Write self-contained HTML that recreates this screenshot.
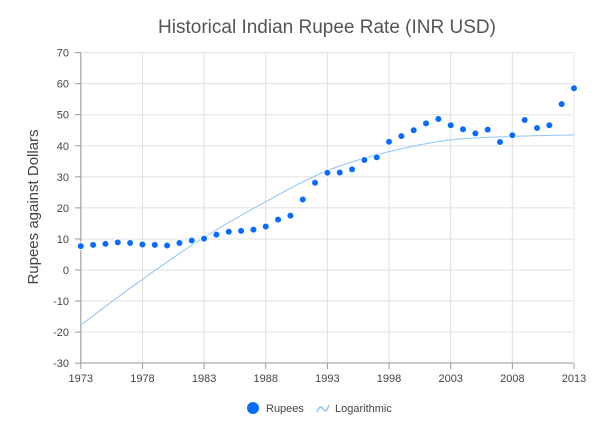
<!DOCTYPE html>
<html><head><meta charset="utf-8"><style>
body{margin:0;background:#fff;}
svg text{font-family:"Liberation Sans",sans-serif;}
</style></head><body>
<svg id="s" width="607" height="438" xmlns="http://www.w3.org/2000/svg">
<text x="327" y="33" text-anchor="middle" font-size="19" fill="#555">Historical Indian Rupee Rate (INR USD)</text>
<text transform="translate(38,207) rotate(-90)" text-anchor="middle" font-size="15" fill="#444">Rupees against Dollars</text>
<g id="g"></g>
<circle cx="253" cy="408" r="6" fill="#0a6cff"/>
<text x="266" y="412" font-size="11" fill="#444">Rupees</text>
<path d="M317,412 q3,-8 6,-3 t6,-4" stroke="#90c3f5" fill="none" stroke-width="1.5"/>
<text x="335" y="412" font-size="11" fill="#444">Logarithmic</text>
</svg>
<script>
var g=document.getElementById('g'),h='';
function X(yr){return 80.8+(yr-1973)*12.33;}
function Y(v){return 270-v*3.106;}
for(var v=-30;v<=70;v+=10){var y=Y(v);
 h+='<line x1="80.8" x2="573" y1="'+y+'" y2="'+y+'" stroke="#e0e0e0"/>';
 h+='<line x1="75" x2="80.8" y1="'+y+'" y2="'+y+'" stroke="#999"/>';
 h+='<text x="69" y="'+(y+4)+'" text-anchor="end" font-size="11" fill="#444">'+v+'</text>';}
for(var yr=1973;yr<=2013;yr+=5){var x=X(yr);
 h+='<line x1="'+x+'" x2="'+x+'" y1="52.7" y2="363" stroke="#e0e0e0"/>';
 h+='<line x1="'+x+'" x2="'+x+'" y1="363" y2="369" stroke="#999"/>';
 h+='<text x="'+x+'" y="382" text-anchor="middle" font-size="11" fill="#444">'+yr+'</text>';}
h+='<line x1="80.8" x2="80.8" y1="52.7" y2="363" stroke="#999"/>';
h+='<line x1="80.8" x2="573" y1="363" y2="363" stroke="#999"/>';
var t=[[1973,-17.7],[1978,-3],[1983,10.5],[1988,22],[1993,32],[1998,38.1],[2003,41.9],[2008,43],[2013,43.5]];
var P=t.map(function(p){return [X(p[0]),Y(p[1])];}),d='M'+P[0];
for(var i=0;i<P.length-1;i++){var p0=P[Math.max(i-1,0)],p1=P[i],p2=P[i+1],p3=P[Math.min(i+2,P.length-1)];
 d+=' C'+(p1[0]+(p2[0]-p0[0])/6)+','+(p1[1]+(p2[1]-p0[1])/6)+' '+(p2[0]-(p3[0]-p1[0])/6)+','+(p2[1]-(p3[1]-p1[1])/6)+' '+p2[0]+','+p2[1];}
h+='<path d="'+d+'" stroke="#90c3f5" fill="none" stroke-width="1"/>';
var r=[7.7,8.1,8.4,8.9,8.7,8.2,8.1,7.9,8.7,9.5,10.1,11.4,12.3,12.6,13.0,14.0,16.2,17.5,22.7,28.1,31.3,31.4,32.4,35.4,36.3,41.3,43.1,45.0,47.2,48.6,46.6,45.3,44.0,45.2,41.2,43.4,48.3,45.7,46.6,53.4,58.5];
r.forEach(function(v,i){h+='<circle cx="'+X(1973+i)+'" cy="'+Y(v)+'" r="3.5" fill="#0a6cff" stroke="#fff" stroke-width="1"/>';});
g.innerHTML=h;
</script>
</body></html>
